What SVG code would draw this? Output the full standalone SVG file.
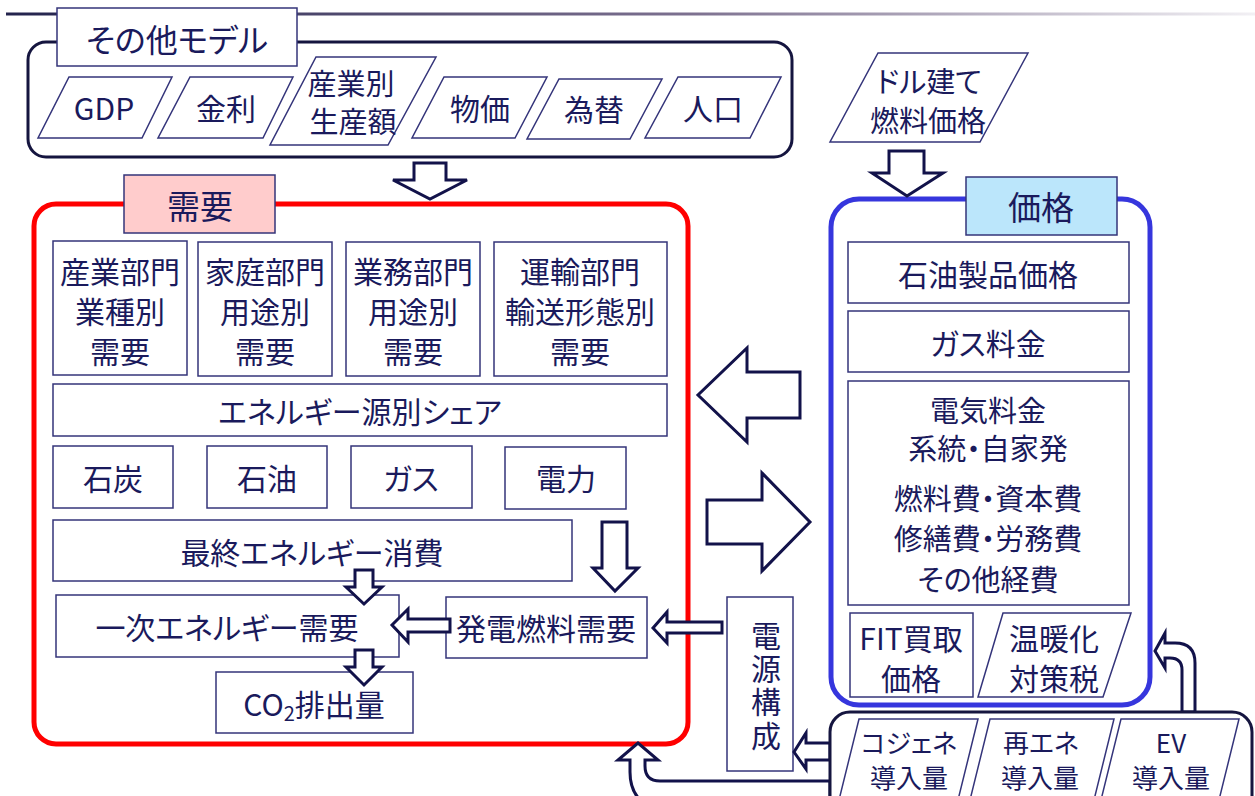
<svg xmlns="http://www.w3.org/2000/svg" width="1255" height="796" viewBox="0 0 1255 796">
<defs>
<linearGradient id="topline" x1="0" y1="0" x2="1" y2="0">
<stop offset="0" stop-color="#23234d"/>
<stop offset="0.55" stop-color="#7d7190"/>
<stop offset="1" stop-color="#f2f0f4"/>
</linearGradient>
<style>
.t{font-family:"Noto Sans CJK JP","Noto Sans",sans-serif;font-size:30px;fill:#1a1a5c;text-anchor:middle;dominant-baseline:central;font-feature-settings:"palt";}
.v{font-family:"Noto Sans CJK JP","Noto Sans",sans-serif;font-size:30px;fill:#1a1a5c;writing-mode:vertical-rl;text-anchor:middle;letter-spacing:3.3px;}
.big{font-size:33px;}
.m{font-size:29px;}
.sm{font-size:26px;}
.box{fill:#fff;stroke:#34347a;stroke-width:1.5;}
.outer{fill:#fff;stroke:#15153f;stroke-width:3;}
.arr{fill:#fff;stroke:#12124a;stroke-width:3;stroke-linejoin:miter;}
</style>
</defs>
<rect width="1255" height="796" fill="#fff"/>
<rect x="6" y="12.5" width="1249" height="3" fill="url(#topline)"/>

<g id="other-models">
<rect class="outer" x="28" y="42" width="764" height="115" rx="18"/>
<rect class="box" x="57" y="8" width="240" height="58"/>
<text class="t" x="177" y="38" style="font-size:32px">その他モデル</text>
</g>
<g id="gdp"><polygon class="box" points="69,77 172,77 142,138 38,138"/><text class="t" x="104" y="107">GDP</text></g>
<g id="interest"><polygon class="box" points="190,77 293,77 263,138 158,138"/><text class="t" x="226" y="107">金利</text></g>
<g id="production"><polygon class="box" points="316,57 436,57 388,145 270,145"/><text class="t m" x="351" y="82">産業別<tspan x="353" dy="38">生産額</tspan></text></g>
<g id="prices"><polygon class="box" points="444,77 547,77 515,138 412,138"/><text class="t" x="480" y="107">物価</text></g>
<g id="fx"><polygon class="box" points="559,79 662,79 630,139 527,139"/><text class="t" x="594" y="108">為替</text></g>
<g id="population"><polygon class="box" points="678,77 781,77 750,138 645,138"/><text class="t" x="713" y="107">人口</text></g>

<g id="dollar-fuel"><polygon class="box" points="878,53 1028,53 980,142 830,142"/><text class="t m" x="929" y="80">ドル建て<tspan x="928" dy="39">燃料価格</tspan></text></g>

<g id="demand">
<rect x="34" y="204" width="654" height="540" rx="22" fill="#fff" stroke="#ff0000" stroke-width="5"/>
<rect class="box" x="124" y="175" width="151" height="58" style="fill:#ffcccc"/>
<text class="t big" x="200" y="205">需要</text>
</g>
<g id="industry"><rect class="box" x="53" y="241" width="134" height="134"/><text class="t" x="120" y="270">産業部門<tspan x="120" dy="40">業種別</tspan><tspan x="120" dy="40">需要</tspan></text></g>
<g id="household"><rect class="box" x="198" y="242" width="134" height="134"/><text class="t" x="265" y="270">家庭部門<tspan x="265" dy="40">用途別</tspan><tspan x="265" dy="40">需要</tspan></text></g>
<g id="commercial"><rect class="box" x="346" y="242" width="134" height="134"/><text class="t" x="413" y="270">業務部門<tspan x="413" dy="40">用途別</tspan><tspan x="413" dy="40">需要</tspan></text></g>
<g id="transport"><rect class="box" x="494" y="242" width="173" height="134"/><text class="t" x="580" y="270">運輸部門<tspan x="580" dy="40">輸送形態別</tspan><tspan x="580" dy="40">需要</tspan></text></g>
<g id="share"><rect class="box" x="53" y="384" width="614" height="52"/><text class="t" x="360" y="410">エネルギー源別シェア</text></g>
<g id="coal"><rect class="box" x="53" y="446" width="120" height="62"/><text class="t" x="113" y="477">石炭</text></g>
<g id="oil"><rect class="box" x="207" y="446" width="120" height="62"/><text class="t" x="267" y="477">石油</text></g>
<g id="gas"><rect class="box" x="351" y="446" width="121" height="62"/><text class="t" x="411" y="477">ガス</text></g>
<g id="power"><rect class="box" x="505" y="447" width="121" height="62"/><text class="t" x="566" y="477">電力</text></g>
<g id="final"><rect class="box" x="53" y="520" width="519" height="61"/><text class="t" x="312" y="551">最終エネルギー消費</text></g>
<g id="primary"><rect class="box" x="56" y="595" width="343" height="62"/><text class="t" x="227" y="626">一次エネルギー需要</text></g>
<g id="genfuel"><rect class="box" x="446" y="597" width="201" height="61"/><text class="t" x="546" y="627">発電燃料需要</text></g>
<g id="co2"><rect class="box" x="216" y="672" width="197" height="61"/><text class="t" x="314" y="703">CO<tspan style="font-size:20px" dy="9">2</tspan><tspan dy="-9">排出量</tspan></text></g>

<g id="price">
<rect x="831" y="199" width="319" height="506" rx="28" fill="#fff" stroke="#3636dd" stroke-width="5"/>
<rect class="box" x="966" y="177" width="151" height="58" style="fill:#bbe6fb"/>
<text class="t big" x="1041" y="206">価格</text>
</g>
<g id="oilprice"><rect class="box" x="848" y="242" width="281" height="61"/><text class="t" x="988" y="273">石油製品価格</text></g>
<g id="gasprice"><rect class="box" x="848" y="311" width="281" height="61"/><text class="t" x="988" y="342">ガス料金</text></g>
<g id="elecprice"><rect class="box" x="848" y="381" width="281" height="224"/>
<text class="t m" x="988" y="409">電気料金<tspan x="988" dy="38">系統・自家発</tspan></text>
<text class="t m" x="988" y="497">燃料費・資本費<tspan x="988" dy="40">修繕費・労務費</tspan><tspan x="988" dy="41">その他経費</tspan></text></g>
<g id="fit"><rect class="box" x="850" y="613" width="123" height="84"/><text class="t" x="911" y="637">FIT買取<tspan x="911" dy="40">価格</tspan></text></g>
<g id="carbontax"><polygon class="box" points="1003,613 1131,613 1103,697 978,697"/><text class="t" x="1054" y="637">温暖化<tspan x="1054" dy="40">対策税</tspan></text></g>

<g id="powermix"><rect class="box" x="727" y="597" width="66" height="174"/>
<text class="v" x="766" y="687">電源構成</text></g>

<g id="connectors">
<path class="arr" d="M414 163 H446 V180 H467 L430 199 L393 180 H414 Z"/>
<path class="arr" d="M889 151 H924 V173 H943 L907 196 L872 173 H889 Z"/>
<path class="arr" d="M800 372 H747 V348 L698 395 L747 442 V418 H800 Z"/>
<path class="arr" d="M707 500 H762 V473 L810 522 L762 571 V544 H707 Z"/>
<path class="arr" d="M355 570 H373 V587 H382 L364 604 L346 587 H355 Z"/>
<path class="arr" d="M355 650 H373 V667 H382 L364 685 L346 667 H355 Z"/>
<path class="arr" d="M602 522 H627 V568 H638 L615 591 L593 568 H602 Z"/>
<path class="arr" d="M450 619 H408 V609 L392 625 L408 642 V632 H450 Z"/>
<path class="arr" d="M722 622 H667 V612 L653 628 L667 643 V633 H722 Z"/>
<path class="arr" d="M830 743 H806 V733 L794 752 L806 769 V760 H830 Z"/>
<path class="arr" d="M830 781 H660 Q645 781 645 766 V760 H658 L638 743 L618 760 H630 V772 Q630 805 665 812 H830 Z"/>
<path class="arr" d="M1182 712 V670 Q1182 658 1170 658 H1165 V668 L1155 651 L1165 633 V643 H1175 Q1195 643 1195 663 V712 Z"/>
</g>

<g id="introductions">
<rect class="outer" x="830" y="712" width="422" height="130" rx="20"/>
</g>
<g id="cogen"><polygon class="box" points="859,719 978,719 958,800 839,800"/><text class="t sm" x="909" y="741">コジェネ<tspan x="909" dy="35">導入量</tspan></text></g>
<g id="renew"><polygon class="box" points="990,719 1114,719 1094,800 970,800"/><text class="t sm" x="1041" y="741">再エネ<tspan x="1040" dy="35">導入量</tspan></text></g>
<g id="ev"><polygon class="box" points="1121,719 1239,719 1219,800 1101,800"/><text class="t sm" x="1171" y="741">EV<tspan x="1171" dy="35">導入量</tspan></text></g>
</svg>
